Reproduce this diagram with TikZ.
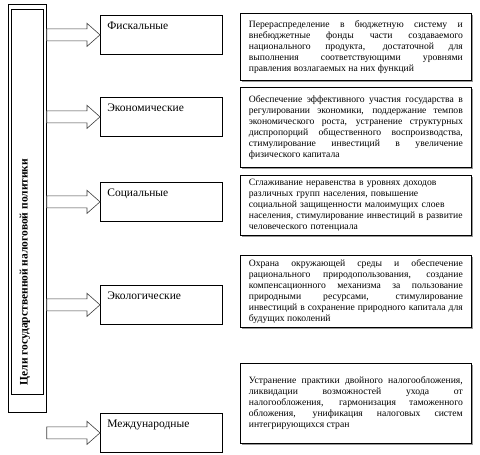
\documentclass[tikz,border=0pt]{standalone}
\usepackage{fontspec}
\setmainfont{Liberation Serif}
\usetikzlibrary{calc,shadows}

\tikzset{
  frame/.style={draw,line width=0.7pt,anchor=north west,inner sep=0pt},
  catbox/.style={draw,line width=0.7pt,anchor=north west,minimum width=122pt,
    inner xsep=7pt,inner ysep=6pt,text width=108pt,text height=8pt,text depth=19pt,
    align=left,font=\fontsize{11.5}{13}\selectfont},
  descbox/.style={draw,line width=0.7pt,fill=white,anchor=north west,minimum width=231pt,
    inner xsep=8.5pt,inner ysep=4pt,text width=214pt,align=justify,
    font=\fontsize{9.65}{11}\selectfont,
    drop shadow={shadow xshift=1.3pt,shadow yshift=-1.3pt,fill=black!40,opacity=1}},
  goalarrow/.style={draw=black!75,fill=white,line width=0.6pt}
}
\newcommand{\goalarrow}[2]{%
  \draw[goalarrow] ($(#1.east |- #2.west)+(0,-6)$) -- ($(#2.west)+(-13,-6)$)
    -- ($(#2.west)+(-13,-11.5)$) -- (#2.west) -- ($(#2.west)+(-13,11.5)$)
    -- ($(#2.west)+(-13,6)$) -- ($(#1.east |- #2.west)+(0,6)$) -- cycle;}

\begin{document}
\begin{tikzpicture}[x=1pt,y=-1pt]
  \useasboundingbox[fill=white] (0,0) rectangle (480,455);

  \node[frame,minimum width=38pt,minimum height=408pt] (goalout) at (8,4) {};
  \node[frame,minimum width=32pt,minimum height=385pt] (goalin) at (11,9) {};
  \node[rotate=90,font=\fontsize{11.5}{13}\selectfont\bfseries] (goaltext) at (25,272)
    {Цели государственной налоговой политики};

  \node[catbox] (fis) at (100,15) {Фискальные};
  \node[catbox] (eco) at (100,97) {Экономические};
  \node[catbox] (soc) at (100,182) {Социальные};
  \node[catbox] (ecl) at (100,285) {Экологические};
  \node[catbox] (int) at (100,413) {Международные};

  \foreach \c in {fis,eco,soc,ecl,int}
    \goalarrow{goalout}{\c};

  \node[descbox,minimum height=67pt] (fisd) at (240,13)
    {Перераспределение в бюджетную систему и\linebreak
     внебюджетные фонды части создаваемого\linebreak
     национального продукта, достаточной для\linebreak
     выполнения соответствующими уровнями\linebreak
     правления возлагаемых на них функций};
  \node[descbox,minimum height=80pt] (ecod) at (240,87)
    {Обеспечение эффективного участия государства в\linebreak
     регулировании экономики, поддержание темпов\linebreak
     экономического роста, устранение структурных\linebreak
     диспропорций общественного воспроизводства,\linebreak
     стимулирование инвестиций в увеличение\linebreak
     физического капитала};
  \node[descbox,align=left,minimum height=58pt] (socd) at (240,175)
    {Сглаживание неравенства в уровнях доходов\\
     различных групп населения, повышение\\
     социальной защищенности малоимущих слоев\\
     населения, стимулирование инвестиций в развитие\\
     человеческого потенциала};
  \node[descbox,minimum height=72pt] (ecld) at (240,255)
    {Охрана окружающей среды и обеспечение\linebreak
     рационального природопользования, создание\linebreak
     компенсационного механизма за пользование\linebreak
     природными ресурсами, стимулирование\linebreak
     инвестиций в сохранение природного капитала для\linebreak
     будущих поколений};
  \node[descbox,minimum height=80pt] (intd) at (240,363)
    {Устранение практики двойного налогообложения,\linebreak
     ликвидации возможностей ухода от\linebreak
     налогообложения, гармонизация таможенного\linebreak
     обложения, унификация налоговых систем\linebreak
     интегрирующихся стран\par\vspace*{10pt}};
\end{tikzpicture}
\end{document}
